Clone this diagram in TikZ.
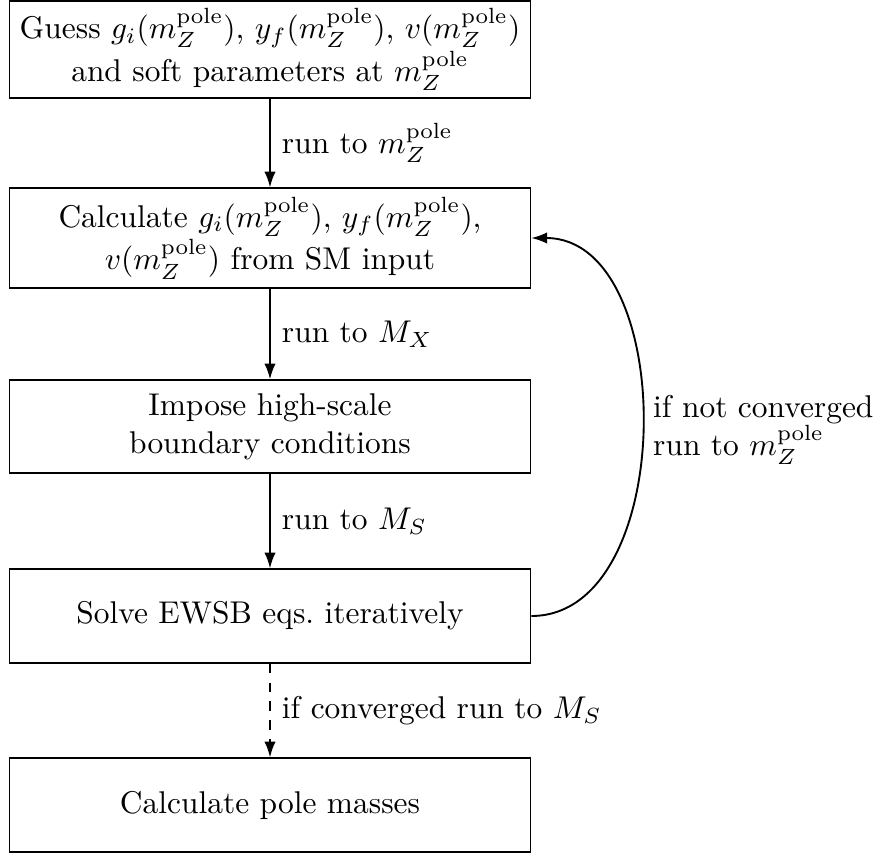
\documentclass[tikz,border=0pt]{standalone}
\usetikzlibrary{arrows.meta}
\begin{document}
\begin{tikzpicture}[x=0.318pt,y=-0.318pt,
  stage/.style={draw,rectangle,thin,align=center,inner sep=2pt,
    minimum width=165.8pt},
  flow/.style={semithick,-{Latex[length=5pt,width=3.6pt]}},
  lbl/.style={right,inner sep=3.5pt}]
  \useasboundingbox (0,0) rectangle (874,855);

  \node[stage,minimum height=30.9pt] (guess) at (270,49.5)
    {Guess $g_i(m_Z^{\mathrm{pole}})$, $y_f(m_Z^{\mathrm{pole}})$, $v(m_Z^{\mathrm{pole}})$\\
     and soft parameters at $m_Z^{\mathrm{pole}}$};
  \node[stage,minimum height=31.8pt] (calc) at (270,238)
    {Calculate $g_i(m_Z^{\mathrm{pole}})$, $y_f(m_Z^{\mathrm{pole}})$,\\
     $v(m_Z^{\mathrm{pole}})$ from SM input};
  \node[stage,minimum height=29.6pt] (impose) at (270,426.5)
    {Impose high-scale\\ boundary conditions};
  \node[stage,minimum height=29.9pt] (ewsb) at (270,616)
    {Solve EWSB eqs.\ iteratively};
  \node[stage,minimum height=29.9pt] (pole) at (270,805)
    {Calculate pole masses};

  \draw[flow] (guess) -- node[lbl] {run to $m_Z^{\mathrm{pole}}$} (calc);
  \draw[flow] (calc) -- node[lbl] {run to $M_X$} (impose);
  \draw[flow] (impose) -- node[lbl] {run to $M_S$} (ewsb);
  \draw[flow,dashed] (ewsb) -- node[lbl] {if converged run to $M_S$} (pole);
  \draw[flow] (ewsb.east) to[out=0,in=0]
    node[right,align=left,inner sep=3.3pt,yshift=-1pt] {if not converged\\ run to $m_Z^{\mathrm{pole}}$}
    (calc.east);
\end{tikzpicture}
\end{document}
